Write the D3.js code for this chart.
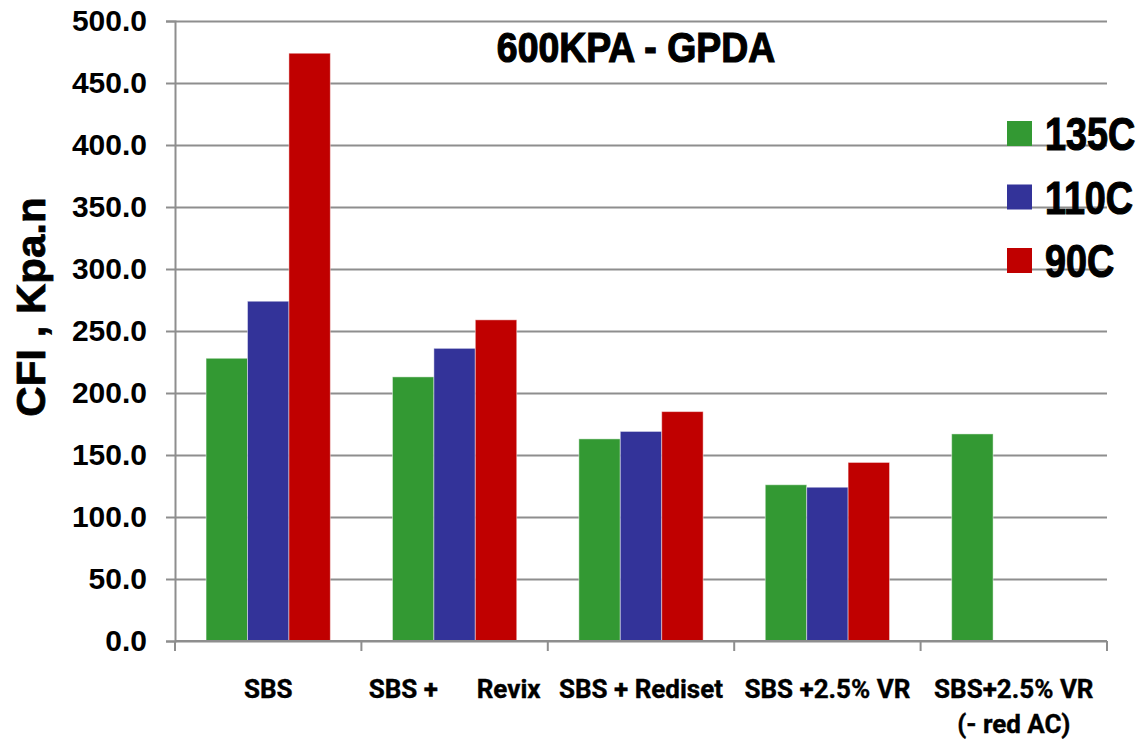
<!DOCTYPE html>
<html>
<head>
<meta charset="utf-8">
<script src="https://cdn.jsdelivr.net/npm/d3@7"></script>
<style>
  html, body { margin: 0; padding: 0; background: #fff; }
  svg { display: block; }
</style>
</head>
<body>
<svg id="chart"></svg>
<script>
// chart data
const categories = ["SBS", "SBS +      Revix", "SBS + Rediset", "SBS +2.5% VR", "SBS+2.5% VR\n(- red AC)"];
const seriesNames = ["135C", "110C", "90C"];
const values135C = [228, 213, 163, 126, 167];
const values110C = [274, 236, 169, 124, null];
const values90C = [474, 259, 185, 144, null];
const yTicks = [0, 50, 100, 150, 200, 250, 300, 350, 400, 450, 500];
const colors = ["#339933", "#333399", "#c00000"];

const width = 1145;
const height = 741;
const margin = { top: 21, right: 38, bottom: 100, left: 175 };

const sans = "'Liberation Sans', Arial, sans-serif";

const svg = d3.select("#chart").attr("width", width).attr("height", height);

const x0 = d3
  .scaleBand()
  .domain(categories)
  .range([margin.left, width - margin.right])
  .paddingInner(1 / 3)
  .paddingOuter(1 / 6);

const x1 = d3.scaleBand().domain(seriesNames).range([0, x0.bandwidth()]);

const y = d3
  .scaleLinear()
  .domain([0, 500])
  .range([height - margin.bottom, margin.top]);

const seriesValues = [values135C, values110C, values90C];
const rows = [];
categories.forEach((c, i) => {
  seriesNames.forEach((s, j) => {
    if (seriesValues[j][i] != null) {
      rows.push({ category: c, series: s, value: seriesValues[j][i], color: colors[j] });
    }
  });
});

// gridlines
svg
  .append("g")
  .attr("transform", `translate(${margin.left},0)`)
  .call(
    d3.axisLeft(y)
      .tickValues(yTicks)
      .tickSize(-(width - margin.left - margin.right))
      .tickFormat("")
  )
  .call((g) => g.select(".domain").remove())
  .call((g) => g.selectAll("line").attr("stroke", "#8e8e8e").attr("stroke-width", 2));

// bars
svg
  .append("g")
  .selectAll("rect")
  .data(rows)
  .enter()
  .append("rect")
  .attr("x", (d) => x0(d.category) + x1(d.series))
  .attr("y", (d) => y(d.value))
  .attr("width", x1.bandwidth())
  .attr("height", (d) => y(0) - y(d.value))
  .attr("fill", (d) => d.color)
  .attr("stroke", "rgba(255,255,255,0.45)")
  .attr("stroke-width", 1);

// y axis
const yAxis = svg
  .append("g")
  .attr("transform", `translate(${margin.left},0)`)
  .call(
    d3.axisLeft(y)
      .tickValues(yTicks)
      .tickSize(9)
      .tickPadding(19)
      .tickFormat(d3.format(".1f"))
  );
yAxis.select(".domain").attr("stroke", "#8e8e8e").attr("stroke-width", 2);
yAxis.selectAll(".tick line").attr("stroke", "#8e8e8e").attr("stroke-width", 2);
yAxis
  .selectAll(".tick text")
  .style("font-family", sans)
  .style("font-weight", "bold")
  .style("font-size", "30px")
  .attr("fill", "#000");

// x axis with ticks on category boundaries
const step = x0.step();
const boundaries = categories.map((c) => x0(c) - (step * x0.paddingInner()) / 2);
boundaries.push(x0.range()[1]);

const xAxis = svg.append("g");
xAxis
  .append("line")
  .attr("x1", x0.range()[0])
  .attr("x2", x0.range()[1])
  .attr("y1", y(0))
  .attr("y2", y(0))
  .attr("stroke", "#8e8e8e")
  .attr("stroke-width", 2);
xAxis
  .selectAll(".xtick")
  .data(boundaries)
  .enter()
  .append("line")
  .attr("x1", (d) => d)
  .attr("x2", (d) => d)
  .attr("y1", y(0))
  .attr("y2", y(0) + 10)
  .attr("stroke", "#8e8e8e")
  .attr("stroke-width", 2);

const xLabels = xAxis
  .selectAll(".xlabel")
  .data(categories)
  .enter()
  .append("text")
  .attr("text-anchor", "middle")
  .attr("x", (d) => x0(d) + x0.bandwidth() / 2)
  .attr("y", y(0) + 57)
  .style("font-family", "Roboto, sans-serif")
  .style("font-weight", "bold")
  .style("font-size", "26px")
  .style("white-space", "pre")
  .attr("fill", "#000")
  .attr("stroke", "#000")
  .attr("stroke-width", 0.4);

xLabels
  .selectAll("tspan")
  .data((d) => d.split("\n").map((t) => ({ t, cx: x0(d) + x0.bandwidth() / 2 })))
  .enter()
  .append("tspan")
  .attr("x", (d) => d.cx)
  .attr("dy", (d, i) => (i === 0 ? 0 : 35))
  .text((d) => d.t);

// y axis title
svg
  .append("text")
  .attr("transform", `translate(45, 307) rotate(-90) scale(1.05, 1)`)
  .attr("text-anchor", "middle")
  .style("font-family", sans)
  .style("font-weight", "bold")
  .style("font-size", "40px")
  .attr("fill", "#000")
  .attr("stroke", "#000")
  .attr("stroke-width", 0.8)
  .text("CFI , Kpa.n");

// title (squeezed to look condensed)
svg
  .append("text")
  .attr("transform", "translate(636, 62) scale(0.89, 1)")
  .attr("text-anchor", "middle")
  .style("font-family", sans)
  .style("font-weight", "bold")
  .style("font-size", "42px")
  .attr("fill", "#000")
  .attr("stroke", "#000")
  .attr("stroke-width", 1.2)
  .text("600KPA - GPDA");

// legend
const legend = svg
  .append("g")
  .attr("transform", "translate(1007, 121)");

const legendItems = legend
  .selectAll(".legend-item")
  .data(seriesNames)
  .enter()
  .append("g")
  .attr("transform", (d, i) => `translate(0, ${i * 63.5})`);

legendItems
  .append("rect")
  .attr("width", 25)
  .attr("height", 25)
  .attr("fill", (d, i) => colors[i]);

legendItems
  .append("text")
  .attr("transform", "translate(38, 29) scale(0.82, 1)")
  .style("font-family", sans)
  .style("font-weight", "bold")
  .style("font-size", "46px")
  .attr("fill", "#000")
  .attr("stroke", "#000")
  .attr("stroke-width", 1.2)
  .text((d) => d);
</script>
</body>
</html>
